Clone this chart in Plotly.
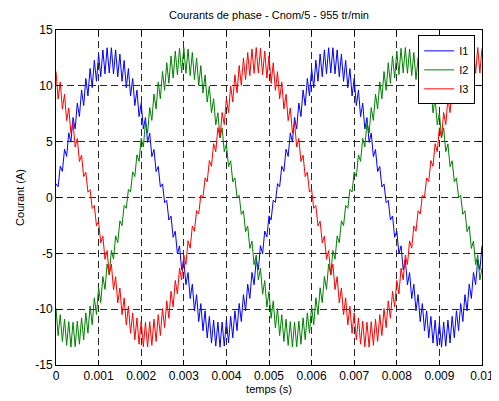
import plotly.graph_objects as go

# Sample times: ripple crests at t_hi, ripple troughs at t_lo (s)
t_hi = [round(0.0001 * k, 6) for k in range(101)]
t_lo = [round(0.0001 * k + 0.00005, 6) for k in range(100)]

# Phase current I1 (A): crest values and trough values
I1_hi = [1.24, 2.80, 4.32, 5.79, 7.17, 8.46, 9.63, 10.66, 11.56, 12.29, 12.85, 13.22, 13.41, 13.41, 13.22, 12.84, 12.28, 11.55, 10.66, 9.62, 8.45, 7.16, 5.77, 4.30, 2.78, 1.22,
         -0.26, -1.66, -3.02, -4.33, -5.57, -6.72, -7.77, -8.70, -9.50, -10.15, -10.65, -10.98, -11.15, -11.15, -10.98, -10.64, -10.14, -9.49, -8.70, -7.76, -6.71, -5.56, -4.31, -3.00, -1.64, -0.24,
         1.24, 2.80, 4.32, 5.79, 7.17, 8.46, 9.63, 10.66, 11.56, 12.29, 12.85, 13.22, 13.41, 13.41, 13.22, 12.84, 12.28, 11.55, 10.66, 9.62, 8.45, 7.16, 5.77, 4.30, 2.78, 1.22,
         -0.26, -1.66, -3.02, -4.33, -5.57, -6.72, -7.77, -8.70, -9.50, -10.15, -10.65, -10.98, -11.15, -11.15, -10.98, -10.64, -10.14, -9.49, -8.70, -7.76, -6.71, -5.56, -4.31]
I1_lo = [0.96, 2.34, 3.68, 4.96, 6.15, 7.25, 8.23, 9.10, 9.83, 10.41, 10.82, 11.07, 11.15, 11.07, 10.81, 10.40, 9.82, 9.09, 8.23, 7.24, 6.14, 4.94, 3.66, 2.32, 0.94, -0.46,
         -2.02, -3.56, -5.06, -6.48, -7.81, -9.05, -10.15, -11.12, -11.93, -12.57, -13.04, -13.31, -13.41, -13.31, -13.03, -12.56, -11.92, -11.11, -10.15, -9.04, -7.81, -6.46, -5.04, -3.54, -2.00, -0.44,
         0.96, 2.34, 3.68, 4.96, 6.15, 7.25, 8.23, 9.10, 9.83, 10.41, 10.82, 11.07, 11.15, 11.07, 10.81, 10.40, 9.82, 9.09, 8.23, 7.24, 6.14, 4.94, 3.66, 2.32, 0.94, -0.46,
         -2.02, -3.56, -5.06, -6.48, -7.81, -9.05, -10.15, -11.12, -11.93, -12.57, -13.04, -13.31, -13.41, -13.31, -13.03, -12.56, -11.92, -11.11, -10.15, -9.04, -7.81, -6.46]

# Phase current I2 (A)
I2_hi = [-9.95, -10.50, -10.89, -11.12, -11.17, -11.06, -10.78, -10.33, -9.73, -8.98, -8.08, -7.07, -5.95, -4.74, -3.44, -2.09, -0.71, 0.72, 2.29, 3.82, 5.30, 6.72, 8.05, 9.26, 10.35, 11.28,
         12.07, 12.68, 13.11, 13.36, 13.43, 13.30, 12.98, 12.49, 11.81, 10.98, 9.98, 8.85, 7.59, 6.24, 4.80, 3.29, 1.75, 0.20, -1.19, -2.56, -3.90, -5.16, -6.35, -7.44, -8.41, -9.26,
         -9.95, -10.50, -10.89, -11.12, -11.17, -11.06, -10.78, -10.33, -9.73, -8.98, -8.08, -7.07, -5.95, -4.74, -3.44, -2.09, -0.71, 0.72, 2.29, 3.82, 5.30, 6.72, 8.05, 9.26, 10.35, 11.28,
         12.07, 12.68, 13.11, 13.36, 13.43, 13.30, 12.98, 12.49, 11.81, 10.98, 9.98, 8.85, 7.59, 6.24, 4.80, 3.29, 1.75, 0.20, -1.19, -2.56, -3.90, -5.16, -6.35]
I2_lo = [-12.37, -12.90, -13.24, -13.39, -13.36, -13.14, -12.74, -12.15, -11.40, -10.48, -9.42, -8.23, -6.92, -5.52, -4.05, -2.52, -0.97, 0.49, 1.88, 3.24, 4.53, 5.76, 6.90, 7.93, 8.84, 9.60,
         10.23, 10.70, 11.00, 11.15, 11.12, 10.92, 10.56, 10.03, 9.36, 8.54, 7.58, 6.51, 5.34, 4.10, 2.77, 1.40, 0.01, -1.51, -3.06, -4.56, -6.01, -7.38, -8.66, -9.81, -10.82, -11.68,
         -12.37, -12.90, -13.24, -13.39, -13.36, -13.14, -12.74, -12.15, -11.40, -10.48, -9.42, -8.23, -6.92, -5.52, -4.05, -2.52, -0.97, 0.49, 1.88, 3.24, 4.53, 5.76, 6.90, 7.93, 8.84, 9.60,
         10.23, 10.70, 11.00, 11.15, 11.12, 10.92, 10.56, 10.03, 9.36, 8.54, 7.58, 6.51, 5.34, 4.10, 2.77, 1.40, 0.01, -1.51, -3.06, -4.56, -6.01, -7.38]

# Phase current I3 (A)
I3_hi = [11.27, 10.34, 9.25, 8.02, 6.71, 5.28, 3.79, 2.26, 0.70, -0.72, -2.11, -3.46, -4.75, -5.97, -7.09, -8.10, -8.99, -9.74, -10.33, -10.78, -11.06, -11.17, -11.12, -10.89, -10.49, -9.94,
         -9.25, -8.40, -7.43, -6.34, -5.15, -3.88, -2.55, -1.18, 0.22, 1.76, 3.31, 4.82, 6.25, 7.61, 8.87, 10.00, 10.99, 11.82, 12.49, 12.98, 13.30, 13.43, 13.36, 13.11, 12.67, 12.06,
         11.27, 10.34, 9.25, 8.02, 6.71, 5.28, 3.79, 2.26, 0.70, -0.72, -2.11, -3.46, -4.75, -5.97, -7.09, -8.10, -8.99, -9.74, -10.33, -10.78, -11.06, -11.17, -11.12, -10.89, -10.49, -9.94,
         -9.25, -8.40, -7.43, -6.34, -5.15, -3.88, -2.55, -1.18, 0.22, 1.76, 3.31, 4.82, 6.25, 7.61, 8.87, 10.00, 10.99, 11.82, 12.49, 12.98, 13.30, 13.43, 13.36]
I3_lo = [8.83, 7.92, 6.88, 5.75, 4.52, 3.22, 1.87, 0.48, -0.98, -2.54, -4.07, -5.54, -6.94, -8.25, -9.44, -10.49, -11.41, -12.16, -12.74, -13.14, -13.36, -13.39, -13.24, -12.89, -12.36, -11.66,
         -10.81, -9.80, -8.64, -7.37, -6.00, -4.54, -3.03, -1.48, 0.02, 1.42, 2.79, 4.10, 5.36, 6.53, 7.60, 8.55, 9.37, 10.04, 10.56, 10.92, 11.12, 11.15, 11.00, 10.69, 10.22, 9.60,
         8.83, 7.92, 6.88, 5.75, 4.52, 3.22, 1.87, 0.48, -0.98, -2.54, -4.07, -5.54, -6.94, -8.25, -9.44, -10.49, -11.41, -12.16, -12.74, -13.14, -13.36, -13.39, -13.24, -12.89, -12.36, -11.66,
         -10.81, -9.80, -8.64, -7.37, -6.00, -4.54, -3.03, -1.48, 0.02, 1.42, 2.79, 4.10, 5.36, 6.53, 7.60, 8.55, 9.37, 10.04, 10.56, 10.92, 11.12, 11.15]

series_names = ["I1", "I2", "I3"]
series_colors = ["rgb(0,0,255)", "rgb(0,128,0)", "rgb(255,0,0)"]
x_ticks = [0, 0.001, 0.002, 0.003, 0.004, 0.005, 0.006, 0.007, 0.008, 0.009, 0.01]
x_tick_labels = ["0", "0.001", "0.002", "0.003", "0.004", "0.005", "0.006", "0.007", "0.008", "0.009", "0.01"]
y_ticks = [-15, -10, -5, 0, 5, 10, 15]
y_tick_labels = ["-15", "-10", "-5", "0", "5", "10", "15"]


def interleave(hi, lo):
    assert len(hi) == len(t_hi) and len(lo) == len(t_lo), (len(hi), len(lo))
    xs, ys = [], []
    for i in range(len(t_hi)):
        xs.append(t_hi[i]); ys.append(hi[i])
        if i < len(t_lo):
            xs.append(t_lo[i]); ys.append(lo[i])
    return xs, ys


FONT = "Arial, Liberation Sans, sans-serif"
fig = go.Figure()
for name, color, hi, lo in zip(series_names, series_colors, [I1_hi, I2_hi, I3_hi], [I1_lo, I2_lo, I3_lo]):
    xs, ys = interleave(hi, lo)
    fig.add_trace(go.Scatter(x=xs, y=ys, mode="lines", name=name,
                             line=dict(color=color, width=1)))

axis_common = dict(showgrid=True, gridcolor="rgb(40,40,40)", gridwidth=1, griddash="7px,4px",
                   showline=True, linecolor="black", linewidth=1, mirror="ticks",
                   ticks="inside", ticklen=5, tickcolor="black", zeroline=False,
                   automargin=False,
                   tickfont=dict(family=FONT, size=12, color="black"))

# The page body adds an 8 px offset, so the figure is 8 px smaller than the window.
W, H = 491, 393
fig.update_layout(
    width=W, height=H,
    margin=dict(l=48, r=17, t=22, b=36),
    paper_bgcolor="white", plot_bgcolor="white",
    font=dict(family=FONT, size=11, color="black"),
    title=dict(text="Courants de phase - Cnom/5 - 955 tr/min", x=0.5, xref="paper",
               y=1 - 7 / H, yref="container", yanchor="middle",
               font=dict(family=FONT, size=11, color="black")),
    xaxis=dict(range=[0, 0.01], tickvals=x_ticks, ticktext=x_tick_labels,
               title=dict(text="temps (s)", standoff=2, font=dict(family=FONT, size=11)),
               **axis_common),
    yaxis=dict(range=[-15, 15], tickvals=y_ticks, ticktext=y_tick_labels,
               title=dict(text="Courant (A)", standoff=8, font=dict(family=FONT, size=11)),
               **axis_common),
    legend=dict(x=0.984, xanchor="right", y=0.984, yanchor="top",
                bgcolor="white", bordercolor="black", borderwidth=1,
                font=dict(family=FONT, size=11, color="black"),
                tracegroupgap=0),
    showlegend=True,
)

fig.write_html("out.html")
